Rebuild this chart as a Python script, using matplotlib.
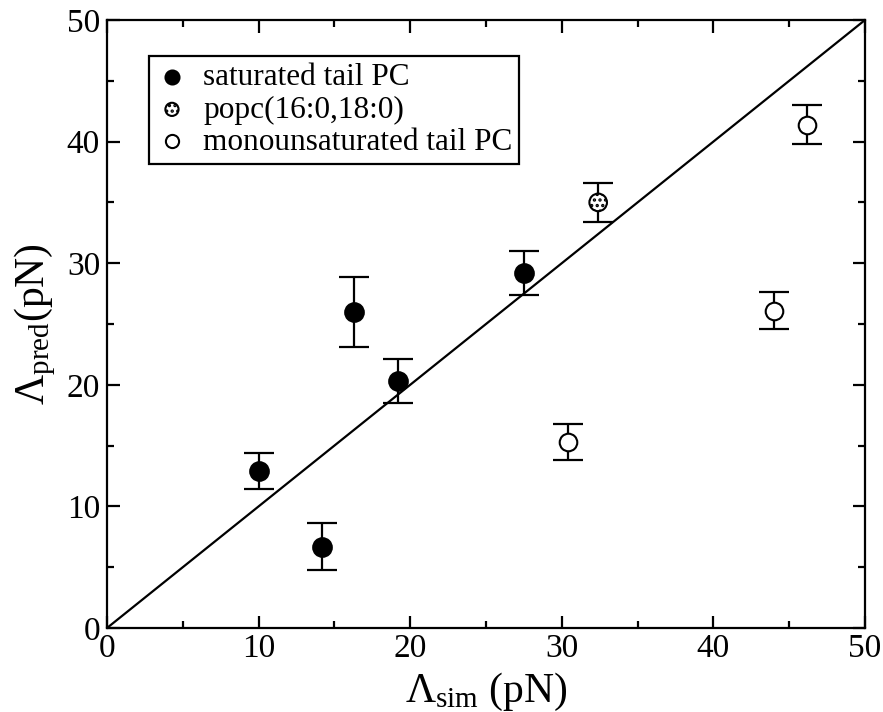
import numpy as np
import matplotlib
matplotlib.use("Agg")
import matplotlib.pyplot as plt

plt.rcParams['font.family'] = ['Liberation Serif', 'DejaVu Serif']
plt.rcParams['mathtext.fontset'] = 'custom'
plt.rcParams['mathtext.rm'] = 'Liberation Serif'
plt.rcParams['mathtext.it'] = 'Liberation Serif'
plt.rcParams['hatch.linewidth'] = 1.6

# saturated tail PC
sat_sim = [10.0, 14.2, 16.3, 19.2, 27.5]
sat_pred = [12.9, 6.7, 26.0, 20.3, 29.2]
sat_err = [1.5, 1.9, 2.9, 1.8, 1.8]

# popc(16:0,18:0)
popc_sim = [32.4]
popc_pred = [35.0]
popc_err = [1.6]

# monounsaturated tail PC
mono_sim = [30.4, 44.0, 46.2]
mono_pred = [15.3, 26.1, 41.4]
mono_err = [1.5, 1.5, 1.6]

fig = plt.figure(figsize=(8.83, 7.12), dpi=100)
ax = fig.add_axes([0.1212, 0.118, 0.8584, 0.8539])

ax.plot([0, 50], [0, 50], color='black', lw=1.6, zorder=1)

eb = dict(fmt='none', ecolor='black', elinewidth=1.6, capsize=11, capthick=1.6, zorder=2)
ax.errorbar(sat_sim, sat_pred, yerr=sat_err, **eb)
ax.errorbar(popc_sim, popc_pred, yerr=popc_err, **eb)
ax.errorbar(mono_sim, mono_pred, yerr=mono_err, **eb)

ax.scatter(sat_sim, sat_pred, s=180, c='black', edgecolors='black', linewidths=1.5,
           zorder=3, label='saturated tail PC')
ax.scatter(popc_sim, popc_pred, s=160, c='white', edgecolors='black', linewidths=1.5,
           hatch='...', zorder=3, label='popc(16:0,18:0)')
ax.scatter(mono_sim, mono_pred, s=160, c='white', edgecolors='black', linewidths=1.5,
           zorder=3, label='monounsaturated tail PC')

ax.set_xlim(0, 50)
ax.set_ylim(0, 50)
ax.set_xticks(np.arange(0, 51, 10))
ax.set_yticks(np.arange(0, 51, 10))
ax.set_xticks(np.arange(5, 50, 10), minor=True)
ax.set_yticks(np.arange(5, 50, 10), minor=True)
ax.tick_params(which='both', direction='in', top=True, right=True, width=1.6, labelsize=24)
ax.tick_params(which='major', length=9)
ax.tick_params(which='minor', length=5)
ax.tick_params(axis='x', pad=4)
ax.tick_params(axis='y', pad=5)
for sp in ax.spines.values():
    sp.set_linewidth(1.6)

ax.set_xlabel(r'$\Lambda_{\mathrm{sim}}$ (pN)', fontsize=30, labelpad=5)
ax.set_ylabel(r'$\Lambda_{\mathrm{pred}}$(pN)', fontsize=30, labelpad=6)

leg = ax.legend(loc='upper left', bbox_to_anchor=(0.056, 0.94), fontsize=22.5,
                frameon=True, fancybox=False, edgecolor='black', framealpha=1,
                handletextpad=0.5, borderpad=0.22, labelspacing=0.1,
                handlelength=1.0, markerscale=0.75, borderaxespad=0)
leg.get_frame().set_linewidth(1.6)

fig.savefig('out.png', dpi=100)
